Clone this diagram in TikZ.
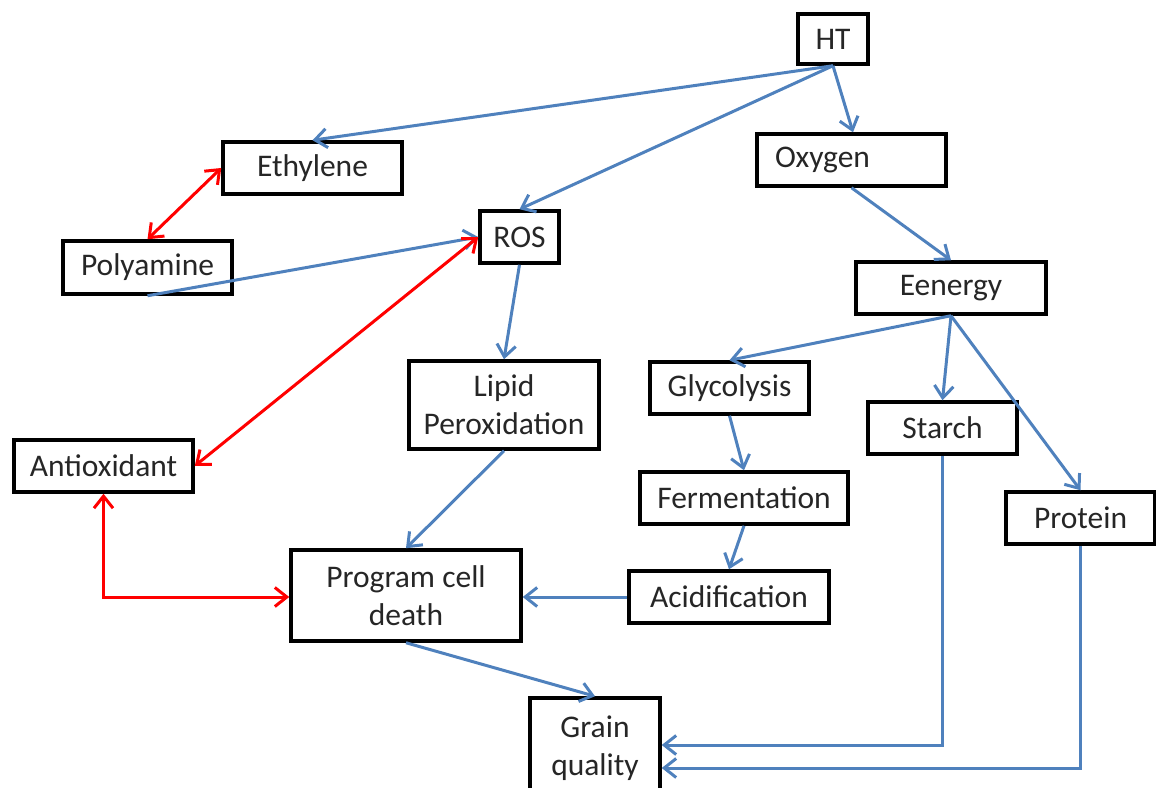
\documentclass[tikz,border=0pt]{standalone}
\usepackage{fontspec}
\setmainfont{Carlito}
\usetikzlibrary{arrows.meta}
\definecolor{lnblue}{RGB}{79,129,189}
\definecolor{lnred}{RGB}{255,0,0}
\begin{document}
\begin{tikzpicture}[x=1pt,y=-1pt,
  box/.style={draw=black, line width=3.5pt, inner sep=0pt, fill=white,
    font=\fontsize{31.5}{38}\selectfont, align=center, text=black!85},
  tipb/.tip={Straight Barb[length=12pt,width=19pt]},
  blu/.style={draw=lnblue, line width=3pt, -tipb},
  rd/.style={draw=lnred, line width=3pt, tipb-tipb}]
\useasboundingbox (0,0) rectangle (1156,787);
% nodes
\node[box, minimum width=70, minimum height=50] (ht) at (833,39) {HT};
\node[box, minimum width=179, minimum height=52] (eth) at (312.5,168) {Ethylene};
\node[box, minimum width=189, minimum height=52, text width=153, inner xsep=18, align=left] (oxy) at (851.5,160) {Oxygen};
\node[box, minimum width=79, minimum height=52] (ros) at (519.5,237) {ROS};
\node[box, minimum width=169, minimum height=53] (poly) at (147.5,267.5) {Polyamine};
\node[box, minimum width=190, minimum height=52] (ener) at (951,288) {Eenergy};
\node[box, minimum width=190, minimum height=88] (lipid) at (504,405) {Lipid\\Peroxidation};
\node[box, minimum width=159, minimum height=52] (glyc) at (729.5,388) {Glycolysis};
\node[box, minimum width=149, minimum height=52] (starch) at (942.5,428) {Starch};
\node[box, minimum width=179, minimum height=52] (anti) at (103.5,466) {Antioxidant};
\node[box, minimum width=208, minimum height=52] (ferm) at (744,498) {Fermentation};
\node[box, minimum width=149, minimum height=52] (prot) at (1080.5,518) {Protein};
\node[box, minimum width=230, minimum height=91] (pcd) at (406,595.5) {Program cell\\death};
\node[box, minimum width=200, minimum height=52] (acid) at (729,597) {Acidification};
\node[box, minimum width=130, minimum height=100] (grain) at (595,748) {Grain\\quality};
% blue connectors
\draw[blu] (ht.south) -- (eth.north);
\draw[blu] (ht.south) -- (ros.north);
\draw[blu] (ht.south) -- ([xshift=1.5pt]oxy.north);
\draw[blu] (poly.south) -- (ros.west);
\draw[blu] (oxy.south) -- (ener.north);
\draw[blu] (ros.south) -- (lipid.north);
\draw[blu] (ener.south) -- (glyc.north);
\draw[blu] (ener.south) -- (starch.north);
\draw[blu] (ener.south) -- (prot.north);
\draw[blu] (glyc.south) -- (ferm.north);
\draw[blu] (ferm.south) -- (acid.north);
\draw[blu] (acid.west) -- (pcd.east |- acid.west);
\draw[blu] (lipid.south) -- (pcd.north);
\draw[blu] (pcd.south) -- (grain.north);
\draw[blu] (starch.south) |- ([yshift=3pt]grain.east);
\draw[blu] (prot.south) |- ([yshift=-20pt]grain.east);
% red connectors
\draw[rd] (poly.north) -- (eth.west);
\draw[rd] (anti.east) -- (ros.west);
\draw[rd] (anti.south) |- (pcd.west |- acid.west);
\end{tikzpicture}
\end{document}
